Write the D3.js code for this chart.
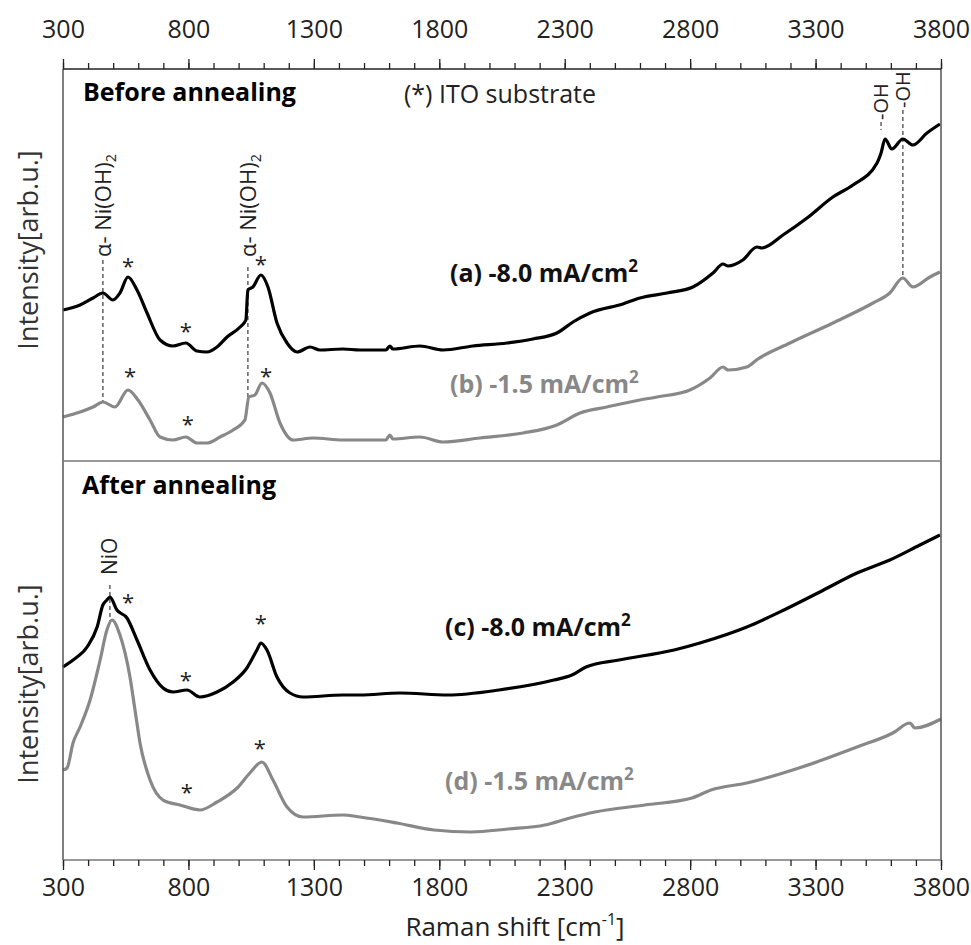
<!DOCTYPE html>
<html>
<head>
<meta charset="utf-8">
<script src="https://cdn.jsdelivr.net/npm/d3@7"></script>
<style>
  body { margin: 0; background: #fff; }
  text { font-family: "Open Sans", "Noto Sans", sans-serif; }
</style>
</head>
<body>
<svg id="chart" width="971" height="945"></svg>
<script>
// Raman shift [cm-1] and intensity [arb.u.]
const shiftA = [300, 368, 420, 459, 499, 527, 559, 595, 635, 687, 738, 790, 834, 874, 914, 954, 1006, 1029, 1037, 1057, 1089, 1117, 1153, 1193, 1233, 1285, 1324, 1416, 1484, 1587, 1603, 1615, 1723, 1815, 1934, 2070, 2173, 2269, 2333, 2401, 2532, 2600, 2708, 2811, 2891, 2931, 2951, 3010, 3066, 3086, 3170, 3266, 3369, 3449, 3545, 3561, 3577, 3604, 3648, 3688, 3744, 3796];
const curveA = [151, 156, 163, 168, 161, 168, 184, 171, 148, 121, 115, 118, 110, 109, 114, 124, 134, 141, 171, 174, 186, 174, 138, 118, 109, 114, 111, 112, 111, 111, 115, 112, 115, 111, 115, 118, 122, 128, 139, 148, 157, 163, 168, 174, 188, 197, 195, 201, 214, 213, 226, 243, 264, 276, 298, 308, 322, 312, 322, 316, 328, 337];

const shiftB = [300, 368, 420, 459, 507, 559, 599, 647, 687, 738, 790, 834, 874, 926, 978, 1025, 1041, 1065, 1093, 1125, 1165, 1217, 1297, 1416, 1536, 1587, 1603, 1615, 1723, 1815, 1962, 2134, 2269, 2361, 2468, 2600, 2668, 2799, 2879, 2931, 2951, 3026, 3070, 3198, 3369, 3529, 3596, 3648, 3688, 3756, 3796];
const curveB = [44, 49, 54, 59, 54, 71, 61, 41, 24, 21, 24, 18, 18, 24, 31, 41, 64, 66, 78, 68, 38, 21, 23, 21, 21, 21, 26, 22, 24, 19, 23, 28, 36, 48, 54, 61, 64, 71, 83, 94, 91, 94, 102, 118, 138, 158, 168, 183, 174, 184, 189];

const shiftC = [300, 340, 396, 436, 459, 475, 487, 515, 555, 595, 647, 699, 738, 794, 846, 914, 978, 1033, 1073, 1089, 1113, 1153, 1205, 1257, 1416, 1484, 1643, 1835, 2038, 2257, 2329, 2385, 2516, 2736, 2839, 3026, 3174, 3317, 3465, 3596, 3716, 3796];
const curveC = [193, 200, 213, 233, 255, 260, 263, 250, 242, 220, 190, 172, 168, 170, 163, 168, 178, 192, 210, 217, 210, 183, 167, 163, 165, 165, 167, 165, 170, 180, 185, 193, 200, 210, 217, 233, 250, 268, 287, 300, 315, 325];

const shiftD = [300, 316, 340, 368, 408, 448, 475, 495, 527, 567, 587, 607, 647, 699, 766, 846, 914, 994, 1045, 1093, 1137, 1193, 1257, 1416, 1484, 1631, 1779, 1926, 2074, 2221, 2321, 2421, 2620, 2807, 2883, 3026, 3246, 3465, 3608, 3676, 3696, 3800];
const curveD = [90, 92, 117, 133, 160, 200, 230, 240, 225, 183, 150, 117, 80, 60, 55, 50, 58, 72, 87, 98, 80, 53, 43, 45, 43, 37, 30, 28, 31, 35, 42, 48, 55, 62, 70, 77, 93, 113, 127, 137, 132, 141];

// ITO substrate peaks (*) : [shift, intensity]
const starsTop = [[559, 199], [790, 134], [1089, 201], [567, 89], [798, 41], [1109, 89]];
const starsBottom = [[559, 262], [790, 184], [1089, 241], [794, 72], [1085, 116]];

const majorTicks = d3.range(300, 3801, 500);
const minorTicks = d3.range(300, 3801, 100);

const svg = d3.select("#chart");
const plotLeft = 63, plotRight = 941, plotTop = 69, plotMid = 461, plotBottom = 860;

const x = d3.scaleLinear().domain([300, 3800]).range([plotLeft, plotRight]);
const yTop = d3.scaleLinear().domain([0, 392]).range([plotMid, plotTop]);
const yBot = d3.scaleLinear().domain([0, 399]).range([plotBottom, plotMid]);

function lineFor(y) {
  return d3.line().x(d => x(d[0])).y(d => y(d[1])).curve(d3.curveMonotoneX);
}

function dashed(xv, y, i0, i1) {
  svg.append("line")
    .attr("x1", x(xv)).attr("x2", x(xv))
    .attr("y1", y(i0)).attr("y2", y(i1))
    .attr("stroke", "#555").attr("stroke-width", 1.4)
    .attr("stroke-dasharray", "4,3");
}

// annotation guide lines (under the curves)
dashed(459, yTop, 201, 59);
dashed(1037, yTop, 194, 64);
dashed(3561, yTop, 339, 331);
dashed(3648, yTop, 351, 183);
dashed(487, yBot, 275, 238);

// spectra
const grey = "#888888";
svg.append("path").datum(d3.zip(shiftB, curveB)).attr("d", lineFor(yTop))
  .attr("fill", "none").attr("stroke", grey).attr("stroke-width", 3.2);
svg.append("path").datum(d3.zip(shiftA, curveA)).attr("d", lineFor(yTop))
  .attr("fill", "none").attr("stroke", "#000").attr("stroke-width", 3.2);
svg.append("path").datum(d3.zip(shiftD, curveD)).attr("d", lineFor(yBot))
  .attr("fill", "none").attr("stroke", grey).attr("stroke-width", 3.2);
svg.append("path").datum(d3.zip(shiftC, curveC)).attr("d", lineFor(yBot))
  .attr("fill", "none").attr("stroke", "#000").attr("stroke-width", 3.2);

// frame
const frame = svg.append("g").attr("stroke", "#555").attr("stroke-width", 1.5);
frame.append("line").attr("x1", plotLeft).attr("x2", plotLeft).attr("y1", plotTop).attr("y2", plotBottom);
frame.append("line").attr("x1", plotRight).attr("x2", plotRight).attr("y1", plotTop).attr("y2", plotBottom);
frame.append("line").attr("x1", plotLeft).attr("x2", plotRight).attr("y1", plotTop).attr("y2", plotTop).attr("stroke", "#222");
frame.append("line").attr("x1", plotLeft).attr("x2", plotRight).attr("y1", plotMid).attr("y2", plotMid).attr("stroke", "#777");
frame.append("line").attr("x1", plotLeft).attr("x2", plotRight).attr("y1", plotBottom).attr("y2", plotBottom).attr("stroke", "#777");

// axes
function styleAxis(g) {
  g.select(".domain").remove();
  g.selectAll(".tick line").attr("stroke", "#222").attr("stroke-width", 1.3);
  g.selectAll("text").attr("font-size", 25).attr("fill", "#222")
    .attr("font-family", "'Open Sans', sans-serif");
}
svg.append("g").attr("transform", `translate(0,${plotTop})`)
  .call(d3.axisTop(x).tickValues(minorTicks).tickSize(6).tickFormat(""))
  .call(styleAxis);
svg.append("g").attr("transform", `translate(0,${plotTop})`)
  .call(d3.axisTop(x).tickValues(majorTicks).tickSize(10).tickPadding(21).tickFormat(d3.format("d")))
  .call(styleAxis);
svg.append("g").attr("transform", `translate(0,${plotBottom})`)
  .call(d3.axisBottom(x).tickValues(minorTicks).tickSize(6).tickFormat(""))
  .call(styleAxis);
svg.append("g").attr("transform", `translate(0,${plotBottom})`)
  .call(d3.axisBottom(x).tickValues(majorTicks).tickSize(10).tickPadding(8).tickFormat(d3.format("d")))
  .call(styleAxis);

// axis titles
const xt = svg.append("text").attr("x", 515).attr("y", 936).attr("text-anchor", "middle")
  .attr("font-size", 26).attr("fill", "#222").text("Raman shift [cm");
xt.append("tspan").attr("font-size", 16).attr("dy", -11).text("-1");
xt.append("tspan").attr("dy", 11).text("]");

[[29, 250], [29, 684]].forEach(([cx, cy]) => {
  svg.append("text").attr("transform", `translate(${cx},${cy}) rotate(-90)`)
    .attr("text-anchor", "middle").attr("dy", "0.35em")
    .attr("font-size", 27).attr("fill", "#333").text("Intensity[arb.u.]");
});

// panel texts
svg.append("text").attr("x", 83).attr("y", 101).attr("font-size", 25).attr("font-weight", 700)
  .text("Before annealing");
svg.append("text").attr("x", 500).attr("y", 103).attr("text-anchor", "middle").attr("font-size", 25)
  .attr("fill", "#222").text("(*) ITO substrate");
svg.append("text").attr("x", 82).attr("y", 494).attr("font-size", 25).attr("font-weight", 700)
  .text("After annealing");

function sampleLabel(tx, ty, label, color) {
  const t = svg.append("text").attr("x", tx).attr("y", ty).attr("font-size", 25)
    .attr("font-weight", 700).attr("fill", color).text(label + " mA/cm");
  t.append("tspan").attr("font-size", 17).attr("dy", -10).text("2");
}
sampleLabel(450, 282, "(a) -8.0", "#111");
sampleLabel(450, 393, "(b) -1.5", grey);
sampleLabel(445, 636, "(c) -8.0", "#111");
sampleLabel(445, 790, "(d) -1.5", grey);

// rotated peak labels, anchored at their lower end
function peakLabel(xv, y, iv, main, sub, size) {
  const t = svg.append("text")
    .attr("transform", `translate(${x(xv)},${y(iv)}) rotate(-90)`)
    .attr("dy", "0.36em").attr("font-size", size).attr("fill", "#222").text(main);
  if (sub) t.append("tspan").attr("font-size", size * 0.65).attr("dy", 5).text(sub);
}
peakLabel(459, yTop, 204, "\u03b1- Ni(OH)", "2", 22);
peakLabel(1037, yTop, 204, "\u03b1- Ni(OH)", "2", 22);
peakLabel(3561, yTop, 341, "-OH", null, 20);
peakLabel(3648, yTop, 353, "-OH", null, 20);
peakLabel(487, yBot, 285, "NiO", null, 21);

// asterisks
function stars(data, y) {
  svg.append("g").selectAll("text").data(data).join("text")
    .attr("x", d => x(d[0])).attr("y", d => y(d[1]) + 12)
    .attr("text-anchor", "middle").attr("font-size", 22).attr("fill", "#222")
    .text("*");
}
stars(starsTop, yTop);
stars(starsBottom, yBot);
</script>
</body>
</html>
